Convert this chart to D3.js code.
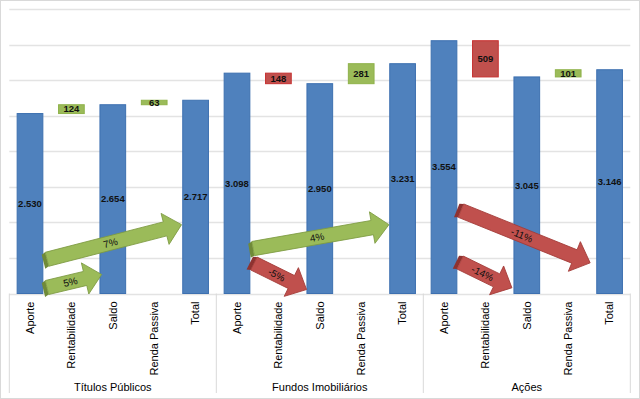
<!DOCTYPE html>
<html>
<head>
<meta charset="utf-8">
<script src="https://cdn.jsdelivr.net/npm/d3@7"></script>
<style>
  body { margin: 0; background: #fff; }
  svg { display: block; font-family: "Liberation Sans", Arial, sans-serif; }
</style>
</head>
<body>
<div id="chart"></div>
<script>
// chart data
var groups = ["Títulos Públicos", "Fundos Imobiliários", "Ações"];
var steps = ["Aporte", "Rentabilidade", "Saldo", "Renda Passiva", "Total"];
var aporte = [2530, 3098, 3554];
var rentabilidade = [124, -148, -509];
var saldo = [2654, 2950, 3045];
var rendaPassiva = [63, 281, 101];
var total = [2717, 3231, 3146];
var gridTicks = [500, 1000, 1500, 2000, 2500, 3000, 3500, 4000];

// arrows: [category position, value] for tail and tip
var arrowLabels = ["5%", "7%", "4%", "-5%", "-11%", "-14%"];
var arrowTail = [[0.41, 84], [0.41, 481], [5.39, 632], [5.41, 421], [10.41, 1165], [10.39, 435]];
var arrowTip = [[1.73, 267], [3.66, 968], [8.67, 968], [6.68, 56], [13.53, 431], [11.64, 80]];

var width = 640, height = 399;
var margin = { top: 9, right: 9.7, bottom: 105, left: 9.3 };

var svg = d3.select("#chart").append("svg")
  .attr("width", width)
  .attr("height", height);

// outer frame
svg.append("rect")
  .attr("x", 0.5).attr("y", 0.5)
  .attr("width", width - 1).attr("height", height - 1)
  .style("fill", "#fff")
  .style("stroke", "#d9d9d9");

// build the flat list of bars
var bars = [];
groups.forEach(function (g, gi) {
  bars.push({ key: g + "|0", label: steps[0], base: 0, value: aporte[gi], type: "full" });
  bars.push({ key: g + "|1", label: steps[1], base: aporte[gi], value: rentabilidade[gi], type: "float" });
  bars.push({ key: g + "|2", label: steps[2], base: 0, value: saldo[gi], type: "full" });
  bars.push({ key: g + "|3", label: steps[3], base: saldo[gi], value: rendaPassiva[gi], type: "float" });
  bars.push({ key: g + "|4", label: steps[4], base: 0, value: total[gi], type: "full" });
});

var x = d3.scaleBand()
  .domain(bars.map(function (d) { return d.key; }))
  .range([margin.left, width - margin.right])
  .paddingInner(0.355)
  .paddingOuter(0.1775);

// continuous position across categories (for arrows)
var xPos = d3.scaleLinear()
  .domain([0, bars.length - 1])
  .range([x(bars[0].key) + x.bandwidth() / 2, x(bars[bars.length - 1].key) + x.bandwidth() / 2]);

var y = d3.scaleLinear()
  .domain([0, 4000])
  .range([height - margin.bottom - 0.5, margin.top]);

var fmt = d3.formatLocale({ decimal: ",", thousands: ".", grouping: [3], currency: ["R$", ""] }).format(",d");

// gridlines
svg.append("g")
  .selectAll("line")
  .data([0].concat(gridTicks))
  .enter().append("line")
  .attr("x1", margin.left).attr("x2", width - margin.right)
  .attr("y1", function (d) { return Math.round(y(d)) + 0.5; })
  .attr("y2", function (d) { return Math.round(y(d)) + 0.5; })
  .style("stroke", "#e3e3e3")
  .style("stroke-width", 1.5);

// group separators in the category area
var groupEdges = [0, 5, 10, 15].map(function (i) {
  return i < bars.length ? x(bars[i].key) - x.step() * x.paddingInner() / 2 : width - margin.right;
});
svg.append("g")
  .selectAll("line")
  .data(groupEdges)
  .enter().append("line")
  .attr("x1", function (d) { return d; }).attr("x2", function (d) { return d; })
  .attr("y1", y(0)).attr("y2", height - 6)
  .style("stroke", "#d9d9d9");

// bars
svg.append("g")
  .selectAll("rect")
  .data(bars)
  .enter().append("rect")
  .attr("x", function (d) { return x(d.key) + 0.5; })
  .attr("width", x.bandwidth() - 1)
  .attr("y", function (d) { return y(Math.max(d.base, d.base + d.value)); })
  .attr("height", function (d) { return Math.abs(y(d.base) - y(d.base + d.value)); })
  .style("fill", function (d) {
    if (d.type === "full") return "#4f81bd";
    return d.value >= 0 ? "#9bbb59" : "#c0504d";
  })
  .style("stroke", function (d) {
    if (d.type === "full") return "#3d70b0";
    return d.value >= 0 ? "#8fb24a" : "#c63030";
  })
  .style("stroke-width", 1);

// value labels
svg.append("g")
  .selectAll("text")
  .data(bars)
  .enter().append("text")
  .attr("x", function (d) { return x(d.key) + x.bandwidth() / 2; })
  .attr("y", function (d) { return (y(d.base) + y(d.base + d.value)) / 2; })
  .attr("dy", "0.35em")
  .style("text-anchor", "middle")
  .style("font-size", "9.5px")
  .style("font-weight", "bold")
  .style("fill", "#111")
  .text(function (d) { return fmt(Math.abs(d.value)); });

// category labels
svg.append("g")
  .selectAll("text")
  .data(bars)
  .enter().append("text")
  .attr("transform", function (d) {
    return "translate(" + (x(d.key) + x.bandwidth() / 2) + "," + (y(0) + 8) + ") rotate(-90)";
  })
  .attr("dy", "0.35em")
  .style("text-anchor", "end")
  .style("font-size", "11px")
  .style("fill", "#000")
  .text(function (d) { return d.label; });

// group labels
svg.append("g")
  .selectAll("text")
  .data(groups)
  .enter().append("text")
  .attr("x", function (d, i) { return (groupEdges[i] + groupEdges[i + 1]) / 2; })
  .attr("y", 391)
  .style("text-anchor", "middle")
  .style("font-size", "11px")
  .style("fill", "#000")
  .text(function (d) { return d; });

// block arrows
var shaft = 7.2, head = 16, headLen = 17, depth = 4;
var arrows = arrowLabels.map(function (label, i) {
  var x0 = xPos(arrowTail[i][0]), y0 = y(arrowTail[i][1]);
  var x1 = xPos(arrowTip[i][0]), y1 = y(arrowTip[i][1]);
  var up = arrowTip[i][1] > arrowTail[i][1];
  return {
    label: label, x0: x0, y0: y0,
    len: Math.hypot(x1 - x0, y1 - y0),
    angle: Math.atan2(y1 - y0, x1 - x0) * 180 / Math.PI,
    fill: up ? "#9bbb59" : "#c0504d",
    dark: up ? "#6f8a38" : "#8e3230",
    line: up ? "#7d9a42" : "#a33b38"
  };
});

var ag = svg.append("g").selectAll("g")
  .data(arrows)
  .enter().append("g")
  .attr("transform", function (d) { return "translate(" + d.x0 + "," + d.y0 + ") rotate(" + d.angle + ")"; });

// tail face (3D look)
ag.append("path")
  .attr("d", function (d) {
    return "M0," + (-shaft) + "L" + (-depth) + "," + (-shaft + 1.5) +
      "L" + (-depth) + "," + (shaft + 1.5) + "L0," + shaft + "Z";
  })
  .style("fill", function (d) { return d.dark; });

ag.append("path")
  .attr("d", function (d) {
    var b = d.len - headLen;
    return "M0," + (-shaft) + "L" + b + "," + (-shaft) + "L" + b + "," + (-head) +
      "L" + d.len + ",0L" + b + "," + head + "L" + b + "," + shaft + "L0," + shaft + "Z";
  })
  .style("fill", function (d) { return d.fill; })
  .style("stroke", function (d) { return d.line; })
  .style("stroke-width", 0.8);

ag.append("text")
  .attr("x", function (d) { return d.len / 2 - 4; })
  .attr("y", 0)
  .attr("dy", "0.35em")
  .style("text-anchor", "middle")
  .style("font-size", "10px")
  .style("fill", "#111")
  .text(function (d) { return d.label; });
</script>
</body>
</html>
